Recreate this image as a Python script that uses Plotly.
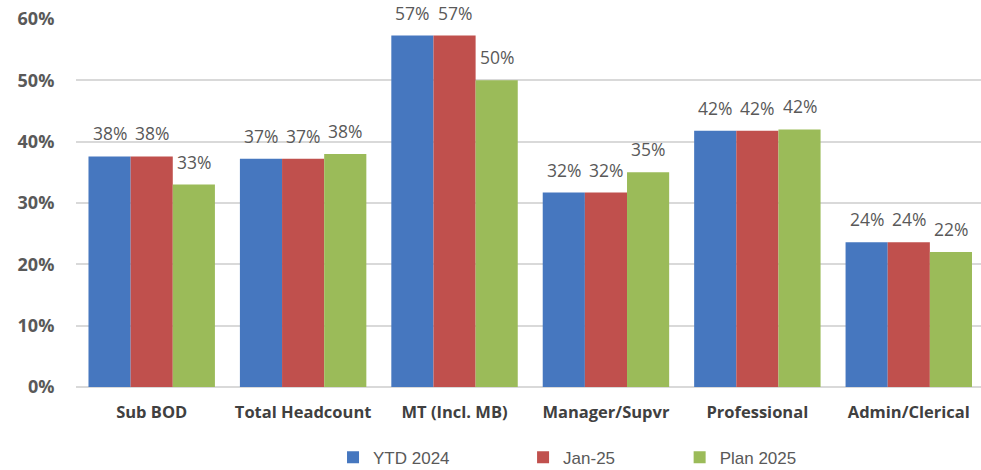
import plotly.graph_objects as go

categories = ["Sub BOD", "Total Headcount", "MT (Incl. MB)", "Manager/Supvr", "Professional", "Admin/Clerical"]
ytd_2024 = [37.6, 37.2, 57.3, 31.7, 41.8, 23.6]
jan_25 = [37.6, 37.2, 57.3, 31.7, 41.8, 23.6]
plan_2025 = [33.0, 38.0, 50.0, 35.0, 42.0, 22.0]
y_ticks = [0, 10, 20, 30, 40, 50, 60]

series = [
    ("YTD 2024", ytd_2024, "#4677BF", "legend", 0.284),
    ("Jan-25", jan_25, "#C0504D", "legend2", 0.494),
    ("Plan 2025", plan_2025, "#9BBB59", "legend3", 0.667),
]

BARGAP = 0.165
bar_w = (1 - BARGAP) / len(series)

fig = go.Figure()
annotations = []
legend_layouts = {}
for k, (name, vals, color, leg, legx) in enumerate(series):
    fig.add_trace(go.Bar(
        name=name, x=categories, y=vals,
        marker=dict(color=color, line=dict(width=0)),
        legend=leg,
    ))
    offset = (k - (len(series) - 1) / 2) * bar_w
    for i, v in enumerate(vals):
        annotations.append(dict(
            x=i + offset, y=v, xref="x", yref="y",
            text=f"{v:.0f}%", showarrow=False,
            yanchor="bottom", xanchor="center", yshift=9,
            font=dict(family="Open Sans, sans-serif", size=17.5, color="#595959"),
        ))
    legend_layouts[leg] = dict(
        orientation="h", x=legx, xanchor="left",
        yref="container", y=0.026, yanchor="middle",
        font=dict(family="Liberation Sans Narrow, Arial Narrow, Liberation Sans, sans-serif", size=17, color="#595959"),
        itemwidth=30, bgcolor="rgba(0,0,0,0)",
    )

fig.update_layout(
    width=981, height=470,
    margin=dict(l=76, r=0, t=19, b=83, autoexpand=False),
    paper_bgcolor="white", plot_bgcolor="white",
    barmode="group", bargap=BARGAP, bargroupgap=0,
    showlegend=True,
    annotations=annotations,
    **legend_layouts,
)
fig.update_xaxes(
    range=[-0.5, 5.477],
    tickfont=dict(family="Open Sans, sans-serif", size=16.5, color="#404040", weight="bold"),
    ticks="outside", ticklen=10, tickcolor="rgba(0,0,0,0)",
    showline=False, showgrid=False, automargin=False,
)
fig.update_yaxes(
    range=[0, 60], tickmode="array", tickvals=y_ticks,
    ticktext=[f"{t}%" for t in y_ticks],
    tickfont=dict(family="Open Sans, sans-serif", size=18, color="#595959", weight="bold"),
    ticks="outside", ticklen=17, tickcolor="rgba(0,0,0,0)",
    showgrid=True, gridcolor="#D9D9D9", gridwidth=1.5,
    zeroline=True, zerolinecolor="#D9D9D9", zerolinewidth=1.5,
    automargin=False,
)

# remove the browser's default 8px body margin so the figure fills the window exactly
fig.write_html(
    "out.html",
    config={"displayModeBar": False},
    post_script="document.body.style.margin='0';document.body.style.overflow='hidden';",
)
